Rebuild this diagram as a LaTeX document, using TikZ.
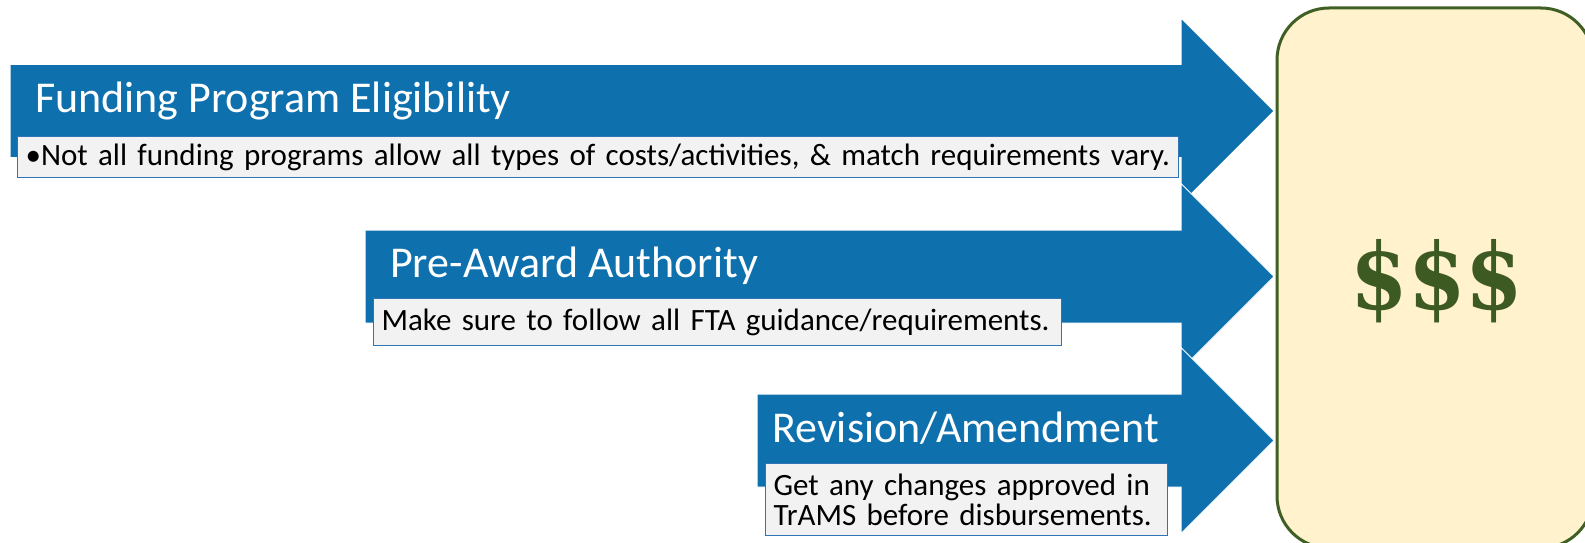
\documentclass[tikz,border=0pt]{standalone}
\usepackage{fontspec}
\setmainfont{Carlito}
\newfontfamily\dollarfont{DejaVu Serif}
\usetikzlibrary{positioning}
\definecolor{arrowblue}{RGB}{14,112,173}
\definecolor{noteline}{RGB}{46,117,182}
\definecolor{notefill}{RGB}{242,242,242}
\definecolor{panelfill}{RGB}{255,242,204}
\definecolor{panelline}{RGB}{63,95,37}
\definecolor{dollargreen}{RGB}{61,90,35}
% block arrow: #1 name, #2 left x, #3 centre y
\newcommand{\BlockArrow}[3]{%
  \coordinate (#1) at (#2,#3);
  \coordinate (#1tip) at (1274,#3);
  \draw [arrowblue, fill=arrowblue, draw=white, line width=1pt]
    (#2,#3-46.5) -- (1181,#3-46.5) -- (1181,#3-93) -- (#1tip)
    -- (1181,#3+93) -- (1181,#3+46.5) -- (#2,#3+46.5) -- cycle;
}

\begin{document}
\begin{tikzpicture}[x=1pt,y=-1pt,
  headtext/.style={anchor=base west,inner sep=0pt,text=white,
    font=\fontsize{44}{54}\selectfont},
  notebox/.style={anchor=north west,draw=noteline,fill=notefill,
    line width=1.2pt,inner xsep=8pt,inner ysep=0pt,align=left,
    font=\fontsize{31}{30}\selectfont},
  panel/.style={draw=panelline,fill=panelfill,line width=3pt,
    rounded corners=52pt}]
\useasboundingbox (0,0) rectangle (1585,543);
\clip (0,0) rectangle (1585,543);
% money panel
\draw [panel] (1277,8) rectangle (1593,548);
\node [text=dollargreen,font=\dollarfont\bfseries\fontsize{92}{100}\selectfont]
  (money) at (1437,281) {\scalebox{0.9}[1]{\$\$\$}};
% first arrow
\BlockArrow{fund}{10}{111}
\node [headtext] (fundhead) at (35,112) {Funding Program Eligibility};
\node [notebox,text width=1145pt,minimum height=41pt] (fundnote) at (17,136)
  {\textbullet Not all funding programs allow all types of costs/activities, \& match requirements vary.};
% second arrow
\BlockArrow{award}{365}{276.5}
\node [headtext] (awardhead) at (390,277) {Pre-Award Authority};
\node [notebox,text width=672pt,minimum height=47pt] (awardnote) at (373,298)
  {Make sure to follow all FTA guidance/requirements.};
% third arrow
\BlockArrow{amend}{757}{440.5}
\node [headtext] (amendhead) at (772,442) {Revision/Amendment};
\node [notebox,text width=386pt,minimum height=72pt] (amendnote) at (765,463)
  {Get any changes approved in\\TrAMS before disbursements.};
\end{tikzpicture}
\end{document}
